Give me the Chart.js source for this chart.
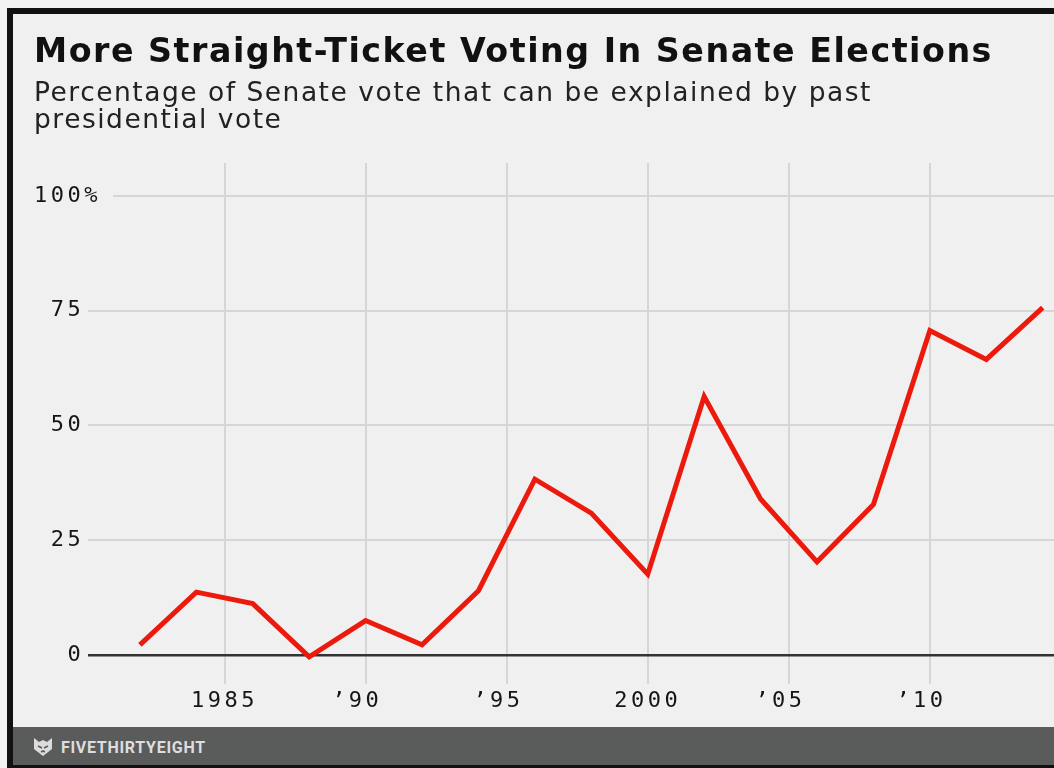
<!DOCTYPE html>
<html>
<head>
<meta charset="utf-8">
<script src="https://cdn.jsdelivr.net/npm/chart.js@4/dist/chart.umd.min.js"></script>
<style>
  html, body { margin: 0; padding: 0; background: #f2f2f2; overflow: hidden; }
  #frame {
    position: absolute; left: 7px; top: 8px;
    width: 1100px; height: 751px;
    border: 6px solid #111; background: #f0f0f0;
  }
  #footer {
    position: absolute; left: 0; right: 0; bottom: 0; height: 38px;
    background: #5a5c5c;
  }
  #footer svg { position: absolute; left: 20px; top: 10px; }
  #footer span {
    position: absolute; left: 48px; top: 11px;
    font: 700 16px Roboto, sans-serif; letter-spacing: 0.7px; color: #dedede;
  }
  #wrap { position: absolute; left: 0; top: 0; width: 1054px; height: 768px; }
</style>
</head>
<body>
<div id="frame">
  <div id="footer">
    <svg width="20" height="20" viewBox="0 0 20 20">
      <path d="M1 1 L6 5 L10 3 L14 5 L19 1 L19 12 L10 19 L1 12 Z" fill="#dcdcdc"/>
      <path d="M5 9 L9 11 M15 9 L11 11 M8 15 L10 14 L12 15" stroke="#5a5c5c" stroke-width="1.6" fill="none"/>
    </svg>
    <span>FIVETHIRTYEIGHT</span>
  </div>
</div>
<div id="wrap"><canvas id="chart"></canvas></div>

<script>
// Datos: % del voto al Senado explicado por el voto presidencial previo
const years = [1982, 1984, 1986, 1988, 1990, 1992, 1994, 1996, 1998,
               2000, 2002, 2004, 2006, 2008, 2010, 2012, 2014];
const straightTicketPct = [2.2, 13.7, 11.2, -0.4, 7.5, 2.2, 14, 38.3, 30.9,
                           17.6, 56.3, 34, 20.3, 32.8, 70.7, 64.4, 75.7];

const xTickYears  = [1985, 1990, 1995, 2000, 2005, 2010];
const xTickLabels = ['1985', '\u201990 ', '\u201995 ', '2000', '\u201905 ', '\u201910 '];
const yTickValues = [0, 25, 50, 75, 100];
// monoespaciada: los espacios alinean los números a la derecha y el % queda colgando
const yTickLabels = ['  0', ' 25', ' 50', ' 75', '100%'];

const titleText = 'More Straight-Ticket Voting In Senate Elections';
const subtitleLines = ['Percentage of Senate vote that can be explained by past', 'presidential vote'];

const BG = '#f0f0f0';
const GRID = '#d6d6d6';

// espaciado de letras: títulos un poco abiertos, ticks más abiertos (se dibujan después del dataset)
const letterSpacing = {
  id: 'letterSpacing',
  beforeDraw(chart) { chart.ctx.letterSpacing = '1.5px'; },
  afterDatasetsDraw(chart) { chart.ctx.letterSpacing = '3.5px'; },
  afterDraw(chart) { chart.ctx.letterSpacing = '0px'; }
};

const tickFont = { family: 'DejaVu Sans Mono', size: 22 };

new Chart(document.getElementById('chart'), {
  type: 'line',
  data: {
    datasets: [{
      label: 'Straight-ticket',
      data: years.map((y, i) => ({ x: y, y: straightTicketPct[i] })),
      borderColor: '#ec1a0d',
      borderWidth: 5,
      borderJoinStyle: 'miter',
      pointRadius: 0,
      tension: 0,
      fill: false
    }]
  },
  options: {
    responsive: true,
    maintainAspectRatio: false,
    animation: false,
    layout: { padding: { top: 14, right: 0, bottom: 44, left: 34 } },
    scales: {
      x: {
        type: 'linear',
        min: 1980.16,
        max: 2014.4,
        afterBuildTicks: s => { s.ticks = xTickYears.map(v => ({ value: v })); },
        afterFit: s => { s.height = 40; },
        grid: { color: GRID, lineWidth: 2, drawTicks: false },
        border: { display: false },
        ticks: {
          z: 1,
          padding: 4,
          color: '#151515',
          font: tickFont,
          maxRotation: 0,
          autoSkip: false,
          callback: (v) => xTickLabels[xTickYears.indexOf(v)]
        }
      },
      y: {
        min: -6.32,
        max: 107.2,
        afterBuildTicks: s => { s.ticks = yTickValues.map(v => ({ value: v })); },
        afterFit: s => { s.width = 54; },
        grid: {
          color: ctx => ctx.tick && ctx.tick.value === 0 ? '#333' : GRID,
          lineWidth: ctx => ctx.tick && ctx.tick.value === 0 ? 2.5 : 2,
          drawTicks: false
        },
        border: { display: false },
        ticks: {
          z: 1,
          mirror: true,      // sin recorte al ancho del eje
          padding: -54,
          color: '#151515',
          font: tickFont,
          showLabelBackdrop: true,
          backdropPadding: { top: 0, bottom: 0, left: 0, right: 26 },
          // sólo el 100% tapa el inicio de su línea de grilla
          backdropColor: ctx => ctx.tick && ctx.tick.value === 100 ? BG : 'rgba(0,0,0,0)',
          callback: (v) => yTickLabels[yTickValues.indexOf(v)]
        }
      }
    },
    plugins: {
      legend: { display: false },
      tooltip: { enabled: false },
      title: {
        display: true,
        text: titleText,
        align: 'start',
        color: '#111',
        font: { family: 'DejaVu Sans', size: 33.3, weight: 'bold', lineHeight: 1.2 },
        padding: { top: 19, bottom: 0 }
      },
      subtitle: {
        display: true,
        text: subtitleLines,
        align: 'start',
        color: '#222',
        font: { family: 'DejaVu Sans', size: 26.5, weight: 'normal', lineHeight: 27 / 26.5 },
        padding: { top: 8, bottom: 28 }
      }
    }
  },
  plugins: [letterSpacing]
});
</script>
</body>
</html>
